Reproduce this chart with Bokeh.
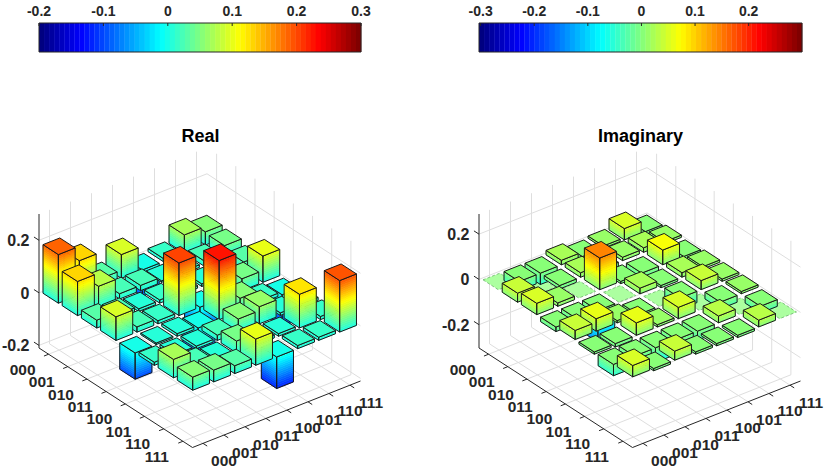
import numpy as np
from bokeh.plotting import figure
from bokeh.models import Range1d
from bokeh.embed import file_html
from bokeh.resources import INLINE
from bokeh.core.properties import value

# ---------------- data ----------------
basis_labels = ["000", "001", "010", "011", "100", "101", "110", "111"]

# Real part, one list per row (row basis state), columns 000..111
real_000 = [0.185, 0.13, 0.03, 0.09, -0.10, 0.012, 0.07, 0.05]
real_001 = [0.13, 0.08, 0.02, 0.02, 0.006, 0.01, 0.02, 0.045]
real_010 = [0.03, 0.02, 0.01, 0.012, 0.01, 0.01, 0.01, 0.03]
real_011 = [0.09, 0.02, 0.012, 0.20, -0.10, 0.02, 0.045, 0.10]
real_100 = [-0.10, 0.006, 0.01, -0.10, 0.225, 0.05, 0.012, -0.12]
real_101 = [0.012, 0.01, 0.01, 0.02, 0.05, 0.065, 0.01, 0.012]
real_110 = [0.07, 0.02, 0.01, 0.045, 0.012, 0.01, 0.128, 0.012]
real_111 = [0.05, 0.045, 0.03, 0.10, -0.12, 0.012, 0.012, 0.196]

# Imaginary part
imag_000 = [0.0, -0.04, -0.05, 0.02, -0.04, 0.01, 0.05, -0.05]
imag_001 = [0.04, 0.0, -0.015, 0.02, -0.055, 0.015, 0.02, 0.01]
imag_010 = [0.05, 0.015, 0.0, 0.14, -0.01, -0.055, 0.065, -0.04]
imag_011 = [-0.02, -0.02, -0.14, 0.0, 0.025, -0.01, 0.02, 0.01]
imag_100 = [0.04, 0.055, 0.01, -0.025, 0.0, -0.05, 0.04, 0.01]
imag_101 = [-0.01, -0.015, 0.055, 0.01, 0.05, 0.0, -0.03, 0.01]
imag_110 = [-0.05, -0.02, -0.065, -0.02, -0.04, 0.03, 0.0, -0.03]
imag_111 = [0.05, -0.01, 0.04, -0.01, -0.01, -0.01, 0.03, 0.0]

z_ticks = [-0.2, 0.0, 0.2]
z_tick_labels = ["-0.2", "0", "0.2"]
real_cbar_ticks = [-0.2, -0.1, 0.0, 0.1, 0.2, 0.3]
real_cbar_labels = ["-0.2", "-0.1", "0", "0.1", "0.2", "0.3"]
imag_cbar_ticks = [-0.3, -0.2, -0.1, 0.0, 0.1, 0.2]
imag_cbar_labels = ["-0.3", "-0.2", "-0.1", "0", "0.1", "0.2"]
real_clim = (-0.2, 0.3)
imag_clim = (-0.303, 0.2995)
real_zlim = (-0.21, 0.30)
imag_zlim = (-0.303, 0.289)

REAL = [real_000, real_001, real_010, real_011, real_100, real_101, real_110, real_111]
IMAG = [imag_000, imag_001, imag_010, imag_011, imag_100, imag_101, imag_110, imag_111]

# ---------------- helpers ----------------
def jet(n=64):
    cols = []
    for i in range(n):
        x = i / (n - 1)
        r = min(max(1.5 - abs(4 * x - 3), 0), 1)
        g = min(max(1.5 - abs(4 * x - 2), 0), 1)
        b = min(max(1.5 - abs(4 * x - 1), 0), 1)
        cols.append("#%02x%02x%02x" % (round(r * 255), round(g * 255), round(b * 255)))
    return cols

def blend_white(hexcol, a):
    r, g, b = (int(hexcol[k:k + 2], 16) for k in (1, 3, 5))
    return "#%02x%02x%02x" % tuple(round(a * c + (1 - a) * 255) for c in (r, g, b))

JET = jet(64)
FONT = value("Liberation Sans")
TXT = "#262626"
GRID = "#dedede"
EDGE = "#1a1a1a"

W, H = 830, 470
p = figure(width=W, height=H, x_range=Range1d(0, W), y_range=Range1d(H, 0),
           output_backend="svg", toolbar_location=None, min_border=0,
           x_axis_location=None, y_axis_location=None)
p.xgrid.visible = False
p.ygrid.visible = False
p.outline_line_color = None
p.background_fill_color = "white"
p.border_fill_color = "white"

CX, CY = 168.0, -66.5     # floor edge along columns (0.5 -> 8.5)
RX, RY = 153.5, 99.5      # floor edge along rows (0.5 -> 8.5)
BOX_H = 134.0


class Panel:
    def __init__(self, Lx, Ly, zlim, clim):
        self.Lx, self.Ly = Lx, Ly
        self.zmin, self.zmax = zlim
        self.cmin, self.cmax = clim
        self.S = BOX_H / (self.zmax - self.zmin)

    def P(self, c, r, z):
        u = (c - 0.5) / 8.0
        w = (r - 0.5) / 8.0
        return (self.Lx + u * CX + w * RX,
                self.Ly + u * CY + w * RY - (z - self.zmin) * self.S)

    def cmap(self, v):
        k = int(np.floor((v - self.cmin) / (self.cmax - self.cmin) * 64))
        return JET[min(max(k, 0), 63)]

    def band_edges(self):
        return [self.cmin + k * (self.cmax - self.cmin) / 64 for k in range(65)]


def draw_panel(pan, M, title, cbar_x0, cbar_x1, cbar_ticks, cbar_labels):
    # ---- grid on back walls and floor ----
    gx, gy = [], []
    zl, zh = pan.zmin, pan.zmax
    def seg(a, b):
        gx.append([a[0], b[0]]); gy.append([a[1], b[1]])
    for k in range(1, 9):
        seg(pan.P(k, 0.5, zl), pan.P(k, 0.5, zh))      # wall along columns
        seg(pan.P(8.5, k, zl), pan.P(8.5, k, zh))      # wall along rows
        seg(pan.P(k, 0.5, zl), pan.P(k, 8.5, zl))      # floor
        seg(pan.P(0.5, k, zl), pan.P(8.5, k, zl))      # floor
    for z in z_ticks:
        seg(pan.P(0.5, 0.5, z), pan.P(8.5, 0.5, z))
        seg(pan.P(8.5, 0.5, z), pan.P(8.5, 8.5, z))
    p.multi_line(gx, gy, line_color=GRID, line_width=1)

    # ---- axis lines and ticks ----
    ax_x, ax_y = [], []
    def aseg(a, b):
        ax_x.append([a[0], b[0]]); ax_y.append([a[1], b[1]])
    aseg(pan.P(0.5, 0.5, zl), pan.P(0.5, 0.5, zh))
    aseg(pan.P(0.5, 0.5, zl), pan.P(0.5, 8.5, zl))
    aseg(pan.P(0.5, 8.5, zl), pan.P(8.5, 8.5, zl))
    nr = np.hypot(RX, RY); nc = np.hypot(CX, CY)
    for z in z_ticks:
        a = pan.P(0.5, 0.5, z)
        aseg(a, (a[0] - 6 * RX / nr, a[1] - 6 * RY / nr))
    for k in range(1, 9):
        a = pan.P(0.5, k, zl)
        aseg(a, (a[0] - 5 * CX / nc, a[1] - 5 * CY / nc))
        b = pan.P(k, 8.5, zl)
        aseg(b, (b[0] + 5 * RX / nr, b[1] + 5 * RY / nr))
    p.multi_line(ax_x, ax_y, line_color=TXT, line_width=1)

    # ---- zero-height cells: flat tiles, each its own patch ----
    zero_col = blend_white(pan.cmap(0.0), 0.7)
    for i in range(8):
        for j in range(8):
            if M[i][j] == 0:
                r0, c0 = i + 1, j + 1
                cL, cR, rB, rF = c0 - 0.4, c0 + 0.4, r0 - 0.4, r0 + 0.4
                pts = [pan.P(cL, rB, 0), pan.P(cL, rF, 0), pan.P(cR, rF, 0), pan.P(cR, rB, 0)]
                p.patch([q[0] for q in pts], [q[1] for q in pts], fill_color=zero_col,
                        line_color="#6cb46c", line_width=0.8, line_dash="3 2")

    # ---- bars (painter's order: far to near) ----
    xs, ys, fc, fa, lc, la, lw = [], [], [], [], [], [], []
    def poly(pts, fill, falpha, line, lalpha, lwidth):
        xs.append([q[0] for q in pts]); ys.append([q[1] for q in pts])
        fc.append(fill); fa.append(falpha); lc.append(line); la.append(lalpha); lw.append(lwidth)

    edges = pan.band_edges()
    cells = []
    for i in range(8):
        for j in range(8):
            r0, c0 = i + 1, j + 1
            cells.append((21.0 * r0 - 19.2 * c0, r0, c0, M[i][j]))
    cells.sort()
    for _, r0, c0, v in cells:
        if v == 0:
            continue
        cL, cR, rB, rF = c0 - 0.4, c0 + 0.4, r0 - 0.4, r0 + 0.4
        a, b = min(0.0, v), max(0.0, v)
        bounds = [a] + [e for e in edges if a < e < b] + [b]
        for z1, z2 in zip(bounds[:-1], bounds[1:]):
            col = pan.cmap(0.5 * (z1 + z2))
            poly([pan.P(cL, rB, z1), pan.P(cL, rF, z1), pan.P(cL, rF, z2), pan.P(cL, rB, z2)],
                 col, 1.0, col, 1.0, 0.6)
            poly([pan.P(cL, rF, z1), pan.P(cR, rF, z1), pan.P(cR, rF, z2), pan.P(cL, rF, z2)],
                 col, 1.0, col, 1.0, 0.6)
        poly([pan.P(cL, rB, a), pan.P(cL, rF, a), pan.P(cL, rF, b), pan.P(cL, rB, b)],
             "white", 0.0, EDGE, 1.0, 1.0)
        poly([pan.P(cL, rF, a), pan.P(cR, rF, a), pan.P(cR, rF, b), pan.P(cL, rF, b)],
             "white", 0.0, EDGE, 1.0, 1.0)
        poly([pan.P(cL, rB, b), pan.P(cL, rF, b), pan.P(cR, rF, b), pan.P(cR, rB, b)],
             pan.cmap(v if v > 0 else 0.0), 1.0, EDGE, 1.0, 1.0)
    p.patches(xs=xs, ys=ys, fill_color=fc, fill_alpha=fa, line_color=lc,
              line_alpha=la, line_width=lw)

    # ---- tick labels ----
    zx = [pan.Lx - 9.5] * len(z_ticks)
    zy = [pan.P(0.5, 0.5, z)[1] for z in z_ticks]
    p.text(zx, zy, text=z_tick_labels, text_font=FONT, text_font_style="bold",
           text_font_size="16px", text_color=TXT, text_align="right", text_baseline="middle")
    rx = [pan.P(0.5, k, zl)[0] - 26 for k in range(1, 9)]
    ry = [pan.P(0.5, k, zl)[1] + 15.5 for k in range(1, 9)]
    p.text(rx, ry, text=basis_labels, text_font=FONT, text_font_style="bold",
           text_font_size="15.5px", text_color=TXT, text_align="center", text_baseline="middle")
    cx = [pan.P(k, 8.5, zl)[0] + 21 for k in range(1, 9)]
    cy = [pan.P(k, 8.5, zl)[1] + 18 for k in range(1, 9)]
    p.text(cx, cy, text=basis_labels, text_font=FONT, text_font_style="bold",
           text_font_size="15.5px", text_color=TXT, text_align="center", text_baseline="middle")

    # ---- title ----
    p.text([pan.Lx + 161.5], [135], text=[title], text_font=FONT, text_font_style="bold",
           text_font_size="18px", text_color="#000000", text_align="center", text_baseline="middle")

    # ---- colorbar ----
    top, bot = 22.5, 51.5
    wbin = (cbar_x1 - cbar_x0) / 64
    p.quad(left=[cbar_x0 + k * wbin for k in range(64)],
           right=[cbar_x0 + (k + 1) * wbin + 0.3 for k in range(64)],
           top=[top] * 64, bottom=[bot] * 64, fill_color=JET, line_color=None)
    p.multi_line([[cbar_x0, cbar_x1, cbar_x1, cbar_x0, cbar_x0]], [[top, top, bot, bot, top]],
                 line_color=TXT, line_width=1)
    tx = [cbar_x0 + (t - pan.cmin) / (pan.cmax - pan.cmin) * (cbar_x1 - cbar_x0) for t in cbar_ticks]
    p.multi_line([[x, x] for x in tx], [[top, top + 3] for _ in tx], line_color=TXT, line_width=1)
    p.text(tx, [10] * len(tx), text=cbar_labels, text_font=FONT, text_font_style="bold",
           text_font_size="14px", text_color=TXT, text_align="center", text_baseline="middle")


left = Panel(38.5, 347.5, real_zlim, real_clim)
right = Panel(478.5, 347.5, imag_zlim, imag_clim)
draw_panel(left, REAL, "Real", 38.5, 360.5, real_cbar_ticks, real_cbar_labels)
draw_panel(right, IMAG, "Imaginary", 478.5, 801.5, imag_cbar_ticks, imag_cbar_labels)

open("out.html", "w").write(file_html(p, INLINE))
